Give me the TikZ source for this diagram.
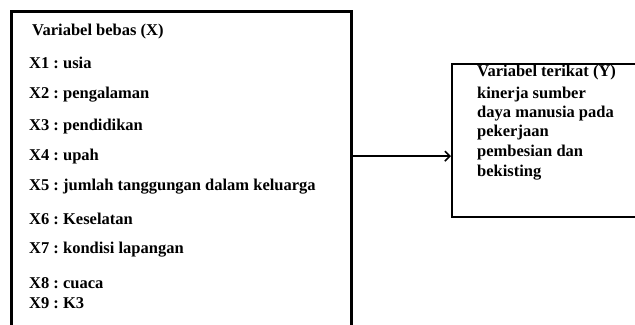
\documentclass[tikz,border=0pt]{standalone}
\usepackage{fontspec}
\setmainfont{Liberation Serif}
\usetikzlibrary{arrows.meta,calc}
\frenchspacing

\begin{document}
\begin{tikzpicture}[x=1bp,y=-1bp,
  varbox/.style={draw=black, fill=none, inner sep=0pt, anchor=north west},
  itemtext/.style={anchor=base west, inner sep=0pt,
    font=\fontsize{16.5bp}{20bp}\selectfont\bfseries},
  link/.style={line width=1.8bp, -{Straight Barb[length=5bp,width=10bp,line width=1.6bp]}}]

  \useasboundingbox (0,0) rectangle (635,324);

  % independent variables box (runs past the lower edge)
  \node[varbox, line width=3bp, minimum width=340bp, minimum height=340bp]
    (bebas) at (9.5,9.5) {};

  % dependent variable box (runs past the right edge)
  \node[varbox, line width=1.5bp, minimum width=200bp, minimum height=153bp]
    (terikat) at (451,63) {};

  % list of X variables
  \node[itemtext] (tx)  at (32,35.5)  {Variabel bebas (X)};
  \node[itemtext] (tx1) at (29,68.5)  {X1 : usia};
  \node[itemtext] (tx2) at (29,98.5)  {X2 : pengalaman};
  \node[itemtext] (tx3) at (29,130.5) {X3 : pendidikan};
  \node[itemtext] (tx4) at (29,160.5) {X4 : upah};
  \node[itemtext] (tx5) at (29,190.5) {X5 : jumlah tanggungan dalam keluarga};
  \node[itemtext] (tx6) at (29,224)   {X6 : Keselatan};
  \node[itemtext] (tx7) at (29,253.5) {X7 : kondisi lapangan};
  \node[itemtext] (tx8) at (29,288)   {X8 : cuaca};
  \node[itemtext] (tx9) at (29,308.5) {X9 : K3};

  % Y variable description
  \node[itemtext] (ty)  at (477,76)  {Variabel terikat (Y)};
  \node[itemtext] (ty1) at (477,98)  {kinerja sumber};
  \node[itemtext] (ty2) at (477,117) {daya manusia pada};
  \node[itemtext] (ty3) at (477,136) {pekerjaan};
  \node[itemtext] (ty4) at (477,156) {pembesian dan};
  \node[itemtext] (ty5) at (477,176) {bekisting};

  % connector X -> Y
  \coordinate (yin) at ($(terikat.north west)!0.603!(terikat.south west)$);
  \draw[link] (bebas.east |- yin) -- (yin);
\end{tikzpicture}
\end{document}
